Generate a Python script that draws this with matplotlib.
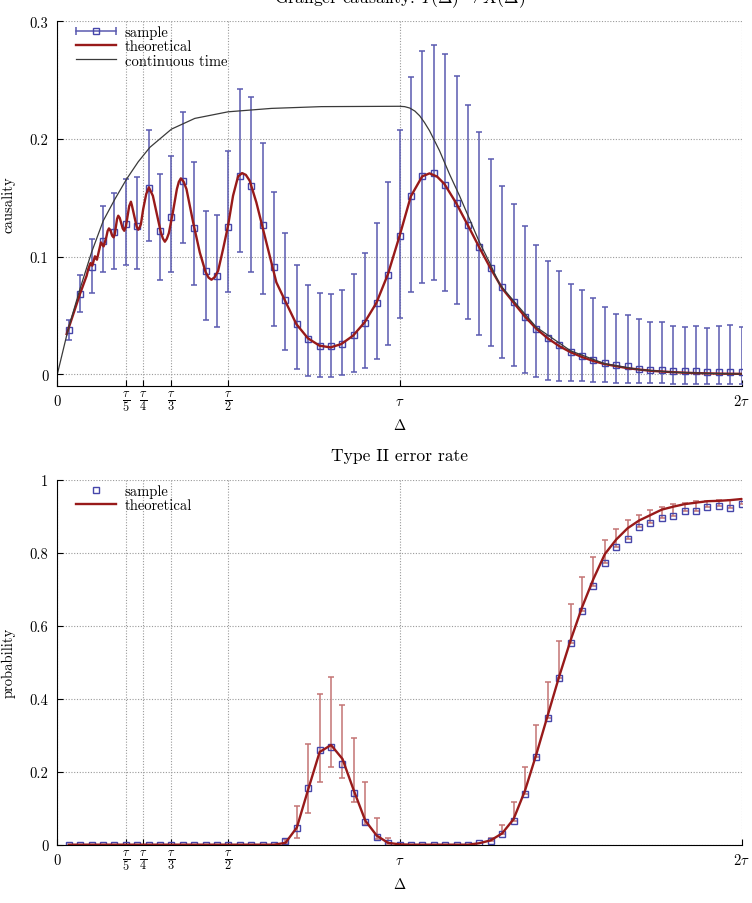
import matplotlib
matplotlib.use("Agg")
import matplotlib.pyplot as plt
import numpy as np
from matplotlib.legend_handler import HandlerBase
from matplotlib.lines import Line2D

plt.rcParams.update({
    "font.family": "serif",
    "font.serif": ["cmr10"],
    "mathtext.fontset": "cm",
    "axes.unicode_minus": False,
    "axes.formatter.use_mathtext": True,
    "font.size": 10.5,
})

# sample lags: k * tau / 30, k = 1..60 (tau = 1)
lag = np.arange(1, 61) / 30

# ---- top panel: Granger causality ----
causal_sample = np.array([
    0.0376, 0.0680, 0.0912, 0.1133, 0.1206, 0.1277, 0.1263, 0.1580, 0.1220, 0.1334,
    0.1645, 0.1246, 0.0880, 0.0835, 0.1254, 0.1687, 0.1597, 0.1268, 0.0909, 0.0631,
    0.0427, 0.0303, 0.0243, 0.0238, 0.0260, 0.0331, 0.0436, 0.0606, 0.0846, 0.1178,
    0.1512, 0.1682, 0.1710, 0.1611, 0.1453, 0.1268, 0.1084, 0.0903, 0.0744, 0.0614,
    0.0489, 0.0387, 0.0306, 0.0246, 0.0192, 0.0158, 0.0124, 0.0096, 0.0076, 0.0068,
    0.0048, 0.0040, 0.0037, 0.0028, 0.0025, 0.0025, 0.0022, 0.0022, 0.0022, 0.0017])
causal_lo = np.array([
    0.0291, 0.0527, 0.0693, 0.0867, 0.0892, 0.0929, 0.0895, 0.1130, 0.0804, 0.0872,
    0.1116, 0.0756, 0.0459, 0.0402, 0.0702, 0.1039, 0.0866, 0.0680, 0.0413, 0.0204,
    0.0045, -0.0012, -0.0023, -0.0023, -0.0010, 0.0017, 0.0051, 0.0127, 0.0252, 0.0478,
    0.0697, 0.0776, 0.0801, 0.0710, 0.0594, 0.0467, 0.0337, 0.0238, 0.0136, 0.0068,
    0.0008, -0.0025, -0.0048, -0.0054, -0.0060, -0.0060, -0.0065, -0.0065, -0.0070, -0.0070,
    -0.0070, -0.0075, -0.0075, -0.0080, -0.0080, -0.0080, -0.0080, -0.0080, -0.0080, -0.0080])
causal_hi = np.array([
    0.0464, 0.0841, 0.1147, 0.1432, 0.1538, 0.1659, 0.1679, 0.2078, 0.1702, 0.1852,
    0.2231, 0.1806, 0.1390, 0.1353, 0.1900, 0.2421, 0.2359, 0.1963, 0.1551, 0.1200,
    0.0931, 0.0761, 0.0690, 0.0680, 0.0719, 0.0855, 0.1028, 0.1285, 0.1636, 0.2076,
    0.2523, 0.2749, 0.2800, 0.2721, 0.2532, 0.2288, 0.2056, 0.1829, 0.1602, 0.1447,
    0.1257, 0.1098, 0.0965, 0.0875, 0.0770, 0.0714, 0.0651, 0.0569, 0.0515, 0.0506,
    0.0467, 0.0444, 0.0441, 0.0413, 0.0402, 0.0413, 0.0396, 0.0413, 0.0421, 0.0399])

theory_lag = np.array([
    0.0273, 0.0468, 0.0662, 0.0857, 0.0905, 0.0940, 0.0974, 0.0998, 0.1022, 0.1061,
    0.1100, 0.1129, 0.1158, 0.1216, 0.1275, 0.1314, 0.1353, 0.1431, 0.1470, 0.1509,
    0.1543, 0.1577, 0.1611, 0.1645, 0.1679, 0.1713, 0.1747, 0.1781, 0.1825, 0.1868,
    0.1912, 0.1956, 0.2005, 0.2053, 0.2102, 0.2151, 0.2180, 0.2258, 0.2320, 0.2365,
    0.2404, 0.2443, 0.2510, 0.2598, 0.2676, 0.2793, 0.2909, 0.3026, 0.3085, 0.3143,
    0.3200, 0.3260, 0.3377, 0.3494, 0.3552, 0.3610, 0.3690, 0.3775, 0.3970, 0.4164,
    0.4330, 0.4420, 0.4505, 0.4600, 0.4700, 0.4845, 0.4990, 0.5136, 0.5283, 0.5400,
    0.5510, 0.5623, 0.5817, 0.6012, 0.6206, 0.6401, 0.6644, 0.6985, 0.7325, 0.7666,
    0.7986, 0.8297, 0.8641, 0.8982, 0.9323, 0.9663, 1.0004, 1.0330, 1.0662, 1.0878,
    1.1100, 1.1315, 1.1656, 1.1996, 1.2317, 1.2657, 1.3000, 1.3333, 1.3667, 1.4000,
    1.4333, 1.4667, 1.5000, 1.5333, 1.5667, 1.6000, 1.6667, 1.7333, 1.8000, 1.8667,
    1.9333, 2.0000])
theory_causal = np.array([
    0.0342, 0.0512, 0.0682, 0.0838, 0.0895, 0.0921, 0.0946, 0.0935, 0.0923, 0.0963,
    0.1003, 0.0989, 0.0974, 0.1048, 0.1121, 0.1104, 0.1087, 0.1164, 0.1218, 0.1240,
    0.1229, 0.1202, 0.1175, 0.1164, 0.1191, 0.1256, 0.1321, 0.1348, 0.1329, 0.1284,
    0.1239, 0.1220, 0.1256, 0.1344, 0.1431, 0.1467, 0.1436, 0.1334, 0.1254, 0.1229,
    0.1248, 0.1276, 0.1404, 0.1532, 0.1589, 0.1517, 0.1362, 0.1206, 0.1155, 0.1127,
    0.1152, 0.1200, 0.1376, 0.1574, 0.1636, 0.1665, 0.1638, 0.1574, 0.1291, 0.1036,
    0.0872, 0.0822, 0.0804, 0.0826, 0.0880, 0.1065, 0.1263, 0.1518, 0.1682, 0.1710,
    0.1695, 0.1645, 0.1461, 0.1234, 0.1008, 0.0782, 0.0633, 0.0427, 0.0306, 0.0243,
    0.0229, 0.0257, 0.0328, 0.0442, 0.0606, 0.0852, 0.1178, 0.1512, 0.1682, 0.1708,
    0.1680, 0.1617, 0.1455, 0.1268, 0.1087, 0.0903, 0.0731, 0.0610, 0.0490, 0.0387,
    0.0306, 0.0240, 0.0188, 0.0147, 0.0113, 0.0087, 0.0052, 0.0030, 0.0018, 0.0010,
    0.0006, 0.0004])

cont_lag = np.array([
    0.0, 0.032, 0.0662, 0.100, 0.1343, 0.1683, 0.2024, 0.2364, 0.2705, 0.3337,
    0.4018, 0.4991, 0.6256, 0.7715, 1.000, 1.015, 1.030, 1.045, 1.059, 1.073,
    1.0878, 1.117, 1.146, 1.1753, 1.2045, 1.2337, 1.2628, 1.292, 1.3333, 1.400,
    1.500, 1.600, 1.700, 1.800, 1.900, 2.000])
cont_causal = np.array([
    0.0, 0.0386, 0.0725, 0.1036, 0.1305, 0.1489, 0.1659, 0.1806, 0.1929, 0.2084,
    0.2175, 0.2231, 0.2260, 0.2275, 0.2278, 0.2275, 0.2263, 0.2237, 0.2197, 0.2140,
    0.2070, 0.1900, 0.1702, 0.1518, 0.1320, 0.1122, 0.0952, 0.0767, 0.0625, 0.0400,
    0.0200, 0.0090, 0.0040, 0.0018, 0.0008, 0.0003])

# ---- bottom panel: type II error rate ----
err_sample = np.array([
    0, 0, 0, 0, 0, 0, 0, 0, 0, 0,
    0, 0, 0, 0, 0, 0, 0, 0, 0, 0.009,
    0.047, 0.155, 0.260, 0.268, 0.222, 0.142, 0.062, 0.020, 0.004, 0,
    0, 0, 0, 0, 0, 0, 0.005, 0.011, 0.029, 0.066,
    0.139, 0.240, 0.348, 0.456, 0.553, 0.641, 0.710, 0.773, 0.816, 0.838,
    0.869, 0.881, 0.894, 0.901, 0.915, 0.915, 0.924, 0.929, 0.923, 0.933])
err_lo = np.array([
    0, 0, 0, 0, 0, 0, 0, 0, 0, 0,
    0, 0, 0, 0, 0, 0, 0, 0, 0, 0.004,
    0.019, 0.088, 0.173, 0.212, 0.184, 0.118, 0.055, 0.015, 0.002, 0,
    0, 0, 0, 0, 0, 0, 0.005, 0.011, 0.029, 0.066,
    0.139, 0.240, 0.348, 0.456, 0.553, 0.641, 0.710, 0.773, 0.816, 0.838,
    0.869, 0.881, 0.894, 0.901, 0.915, 0.915, 0.924, 0.929, 0.923, 0.933])
err_hi = np.array([
    0, 0, 0, 0, 0, 0, 0, 0, 0, 0,
    0, 0, 0, 0, 0, 0, 0, 0, 0, 0.016,
    0.107, 0.275, 0.412, 0.459, 0.384, 0.291, 0.173, 0.072, 0.018, 0,
    0, 0, 0, 0, 0, 0, 0.005, 0.019, 0.054, 0.116,
    0.212, 0.328, 0.447, 0.559, 0.658, 0.733, 0.789, 0.834, 0.865, 0.889,
    0.904, 0.918, 0.926, 0.932, 0.937, 0.941, 0.942, 0.943, 0.944, 0.946])
err_theory = np.array([
    0, 0, 0, 0, 0, 0, 0, 0, 0, 0,
    0, 0, 0, 0, 0, 0, 0, 0, 0, 0.005,
    0.047, 0.152, 0.254, 0.273, 0.235, 0.148, 0.066, 0.025, 0.005, 0.001,
    0, 0, 0, 0, 0, 0, 0.004, 0.012, 0.031, 0.070,
    0.148, 0.248, 0.355, 0.461, 0.560, 0.650, 0.728, 0.796, 0.836, 0.867,
    0.888, 0.903, 0.918, 0.926, 0.933, 0.937, 0.941, 0.942, 0.944, 0.947])

tick_pos = [0, 1 / 5, 1 / 4, 1 / 3, 1 / 2, 1, 2]
tick_text = ["0", r"$\frac{\tau}{5}$", r"$\frac{\tau}{4}$", r"$\frac{\tau}{3}$",
             r"$\frac{\tau}{2}$", r"$\tau$", r"$2\tau$"]

BLUE_BAR = "#5a5ab0"
BLUE_BOX = "#4646aa"
RED_BAR = "#c47474"
RED_LINE = "#981a1a"
GRAY_LINE = "#3a3a3a"


class SampleHandler(HandlerBase):
    # gnuplot-style errorbar key: horizontal bar with end caps and a box
    def create_artists(self, legend, orig_handle, xdescent, ydescent, width, height, fontsize, trans):
        y = height / 2 - ydescent
        x0, x1 = -xdescent, width - xdescent
        bar = Line2D([x0, x1], [y, y], color=BLUE_BAR, lw=1.1)
        caps = Line2D([x0, x1], [y, y], ls="none", marker="|", ms=6, mew=1.1, color=BLUE_BAR)
        box = Line2D([(x0 + x1) / 2], [y], ls="none", marker="s", ms=5, mfc="none", mec=BLUE_BOX, mew=1)
        for a in (bar, caps, box):
            a.set_transform(trans)
        return [bar, caps, box]


def style_axes(ax, ylim, yticks, ylabels, ylabel):
    ax.set_xlim(0, 2)
    ax.set_ylim(*ylim)
    ax.set_xticks(tick_pos)
    ax.set_xticklabels(tick_text)
    ax.set_yticks(yticks)
    ax.set_yticklabels(ylabels)
    ax.spines["top"].set_visible(False)
    ax.spines["right"].set_visible(False)
    ax.grid(True, ls=(0, (1, 1.5)), color="#9a9a9a", lw=0.8)
    ax.set_axisbelow(True)
    ax.tick_params(axis="both", direction="in", length=4, width=0.8, top=False, right=False)
    ax.tick_params(axis="y", pad=6.5)
    ax.tick_params(axis="x", pad=10.8)
    for lab in ax.get_xticklabels():
        lab.set_verticalalignment("center")
        if "frac" in lab.get_text():
            lab.set_fontsize(12.5)
    ax.set_xlabel(r"$\Delta$")
    ax.xaxis.set_label_coords(0.5, -0.085)
    ax.set_ylabel(ylabel)
    ax.yaxis.set_label_coords(-0.061, 0.5)


fig = plt.figure(figsize=(7.52, 9.04), dpi=100)
ax1 = fig.add_axes([0.0762, 0.5722, 0.9101, 0.4031])
ax2 = fig.add_axes([0.0762, 0.0645, 0.9101, 0.4038])

# top panel
ax1.errorbar(lag, causal_sample, yerr=[causal_sample - causal_lo, causal_hi - causal_sample],
             fmt="none", ecolor=BLUE_BAR, elinewidth=1.1, capsize=2.5, capthick=1.1)
ax1.plot(lag, causal_sample, "s", ms=5, mfc="none", mec=BLUE_BOX, mew=1)
ax1.plot(theory_lag, theory_causal, color=RED_LINE, lw=1.7)
ax1.plot(cont_lag, cont_causal, color=GRAY_LINE, lw=0.9)
style_axes(ax1, (-0.0097, 0.3), [0, 0.1, 0.2, 0.3], ["0", "0.1", "0.2", "0.3"], "causality")
ax1.set_title(r"Granger causality: $Y(\Delta) \to X(\Delta)$", pad=13.5)

h_sample = Line2D([], [], color=BLUE_BAR)
h_theory = Line2D([], [], color=RED_LINE, lw=1.7)
h_cont = Line2D([], [], color=GRAY_LINE, lw=0.9)
ax1.legend([h_sample, h_theory, h_cont], ["sample", "theoretical", "continuous time"],
           handler_map={h_sample: SampleHandler()}, loc="upper left",
           bbox_to_anchor=(0.027, 0.99), frameon=False, borderpad=0, borderaxespad=0,
           handlelength=2.74, handletextpad=0.62, labelspacing=0.05)

# bottom panel
has_bar = err_hi - err_lo > 0.002
ax2.errorbar(lag[has_bar], err_sample[has_bar],
             yerr=[(err_sample - err_lo)[has_bar], (err_hi - err_sample)[has_bar]],
             fmt="none", ecolor=RED_BAR, elinewidth=1.1, capsize=2.5, capthick=1.1)
ax2.plot(lag, err_sample, "s", ms=5, mfc="none", mec=BLUE_BOX, mew=1)
ax2.plot(lag, err_theory, color=RED_LINE, lw=1.7)
style_axes(ax2, (0, 1), [0, 0.2, 0.4, 0.6, 0.8, 1], ["0", "0.2", "0.4", "0.6", "0.8", "1"], "probability")
ax2.set_title("Type II error rate", pad=14.2)

h_box = Line2D([], [], ls="none", marker="s", ms=5, mfc="none", mec=BLUE_BOX, mew=1)
ax2.legend([h_box, h_theory], ["sample", "theoretical"], loc="upper left",
           bbox_to_anchor=(0.027, 0.988), frameon=False, borderpad=0, borderaxespad=0,
           handlelength=2.74, handletextpad=0.62, labelspacing=0.05, numpoints=1)

fig.savefig("out.png", dpi=100)
